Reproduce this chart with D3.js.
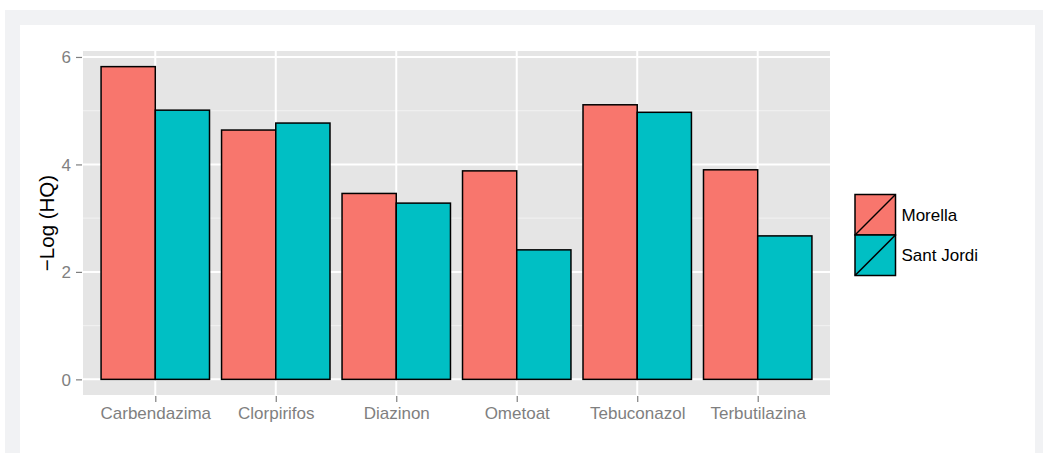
<!DOCTYPE html>
<html>
<head>
<meta charset="utf-8">
<script src="https://cdn.jsdelivr.net/npm/d3@7"></script>
<style>
  html, body { margin: 0; padding: 0; background: #ffffff; }
  svg { display: block; }
  text { font-family: "Liberation Sans", Arial, Helvetica, sans-serif; }
</style>
</head>
<body>
<svg id="chart" width="1043" height="453"></svg>
<script>
const categories = ["Carbendazima", "Clorpirifos", "Diazinon", "Ometoat", "Tebuconazol", "Terbutilazina"];
const seriesNames = ["Morella", "Sant Jordi"];
const morella = [5.82, 4.64, 3.46, 3.88, 5.11, 3.90];
const santJordi = [5.01, 4.77, 3.28, 2.41, 4.97, 2.67];
const yTicks = [0, 2, 4, 6];
const yMinor = [1, 3, 5];
const colors = ["#F8766D", "#00BFC4"];

const svg = d3.select("#chart");
const W = 1043, H = 453;

// outer backgrounds
svg.append("rect").attr("x", 5).attr("y", 10).attr("width", W - 5).attr("height", H - 10).attr("fill", "#F1F2F4");
svg.append("rect").attr("x", 20).attr("y", 25).attr("width", 1015).attr("height", H - 25).attr("fill", "#ffffff");

const panel = { left: 83, right: 830, top: 51, bottom: 395 };

const yMax = d3.max([...morella, ...santJordi]);
const yPad = yMax * 0.05;
const y = d3.scaleLinear().domain([-yPad, yMax + yPad]).range([panel.bottom, panel.top]);

// each category occupies 1 unit, bar group width 0.9, expansion 0.6 units each side
const step = (panel.right - panel.left) / (categories.length + 0.2);
const xc = d3.scalePoint().domain(categories).range([panel.left + 0.6 * step, panel.right - 0.6 * step]);
const groupW = 0.9 * step;
const xs = d3.scaleBand().domain(seriesNames).range([-groupW / 2, groupW / 2]).padding(0);

// panel
svg.append("rect").attr("x", panel.left).attr("y", panel.top)
  .attr("width", panel.right - panel.left).attr("height", panel.bottom - panel.top)
  .attr("fill", "#E5E5E5");

// minor grid
svg.append("g").selectAll("line").data(yMinor).join("line")
  .attr("x1", panel.left).attr("x2", panel.right)
  .attr("y1", d => y(d)).attr("y2", d => y(d))
  .attr("stroke", "#F2F2F2").attr("stroke-width", 1);

// major grid
svg.append("g").selectAll("line").data(yTicks).join("line")
  .attr("x1", panel.left).attr("x2", panel.right)
  .attr("y1", d => y(d)).attr("y2", d => y(d))
  .attr("stroke", "#FFFFFF").attr("stroke-width", 2);
svg.append("g").selectAll("line").data(categories).join("line")
  .attr("x1", d => xc(d)).attr("x2", d => xc(d))
  .attr("y1", panel.top).attr("y2", panel.bottom)
  .attr("stroke", "#FFFFFF").attr("stroke-width", 2);

// bars
const data = [];
categories.forEach((c, i) => {
  data.push({ cat: c, s: seriesNames[0], v: morella[i], col: colors[0] });
  data.push({ cat: c, s: seriesNames[1], v: santJordi[i], col: colors[1] });
});
svg.append("g").selectAll("rect").data(data).join("rect")
  .attr("x", d => xc(d.cat) + xs(d.s))
  .attr("width", xs.bandwidth())
  .attr("y", d => y(d.v))
  .attr("height", d => y(0) - y(d.v))
  .attr("fill", d => d.col)
  .attr("stroke", "#000000").attr("stroke-width", 1.5);

// y axis
const yAxis = d3.axisLeft(y).tickValues(yTicks).tickSize(6).tickPadding(5).tickFormat(d3.format("d"));
const gy = svg.append("g").attr("transform", `translate(${panel.left - 1},0)`).call(yAxis);
gy.select(".domain").remove();
gy.selectAll(".tick line").attr("stroke", "#7F7F7F").attr("stroke-width", 1.2);
gy.selectAll(".tick text").attr("fill", "#7F7F7F").style("font-size", "17px").attr("dy", "0.35em");

// x axis
const xAxis = d3.axisBottom(xc).tickSize(6).tickPadding(5);
const gx = svg.append("g").attr("transform", `translate(0,${panel.bottom + 1})`).call(xAxis);
gx.select(".domain").remove();
gx.selectAll(".tick line").attr("stroke", "#7F7F7F").attr("stroke-width", 1.2);
gx.selectAll(".tick text").attr("fill", "#7F7F7F").style("font-size", "17px");

// y title
svg.append("text")
  .attr("transform", `translate(54,${(panel.top + panel.bottom) / 2}) rotate(-90)`)
  .attr("text-anchor", "middle")
  .attr("fill", "#000000")
  .style("font-size", "20.5px")
  .text("\u2212Log (HQ)");

// legend
const keyX = 855, keyY = 194.5, keyS = 40.5;
const leg = svg.append("g").selectAll("g").data(seriesNames).join("g")
  .attr("transform", (d, i) => `translate(${keyX},${keyY + i * keyS})`);
leg.append("rect").attr("width", keyS).attr("height", keyS)
  .attr("fill", (d, i) => colors[i]).attr("stroke", "#000000").attr("stroke-width", 1.5);
leg.append("line").attr("x1", 0).attr("y1", keyS).attr("x2", keyS).attr("y2", 0)
  .attr("stroke", "#000000").attr("stroke-width", 1.5);
leg.append("text").attr("x", keyS + 6).attr("y", keyS / 2).attr("dy", "0.35em")
  .attr("fill", "#000000").style("font-size", "17px").text(d => d);
</script>
</body>
</html>
